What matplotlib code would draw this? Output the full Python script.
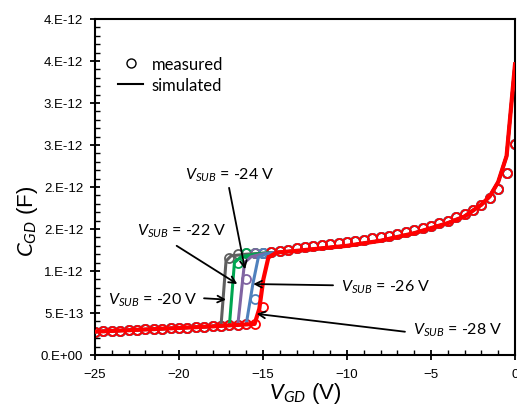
import numpy as np
import matplotlib
matplotlib.use("Agg")
import matplotlib.pyplot as plt
from matplotlib.lines import Line2D
from matplotlib.ticker import FixedLocator, FixedFormatter, MultipleLocator

plt.rcParams['font.family'] = ['Liberation Sans', 'DejaVu Sans']
plt.rcParams['mathtext.fontset'] = 'custom'
plt.rcParams['mathtext.rm'] = 'Lato'
plt.rcParams['mathtext.it'] = 'Lato:italic'

# measured points, 0.5 V steps (values in 1e-12 F)
base_x = [-25, -24.5, -24, -23.5, -23, -22.5, -22, -21.5, -21, -20.5,
          -20, -19.5, -19, -18.5, -18, -17.5, -17, -16.5, -16, -15.5]
base_c = [0.278, 0.282, 0.287, 0.291, 0.295, 0.300, 0.304, 0.308, 0.312, 0.317,
          0.322, 0.326, 0.331, 0.336, 0.341, 0.347, 0.353, 0.358, 0.364, 0.370]
upper_x = [-16.5, -16, -15.5, -15, -14.5, -14, -13.5, -13, -12.5, -12,
           -11.5, -11, -10.5, -10, -9.5, -9, -8.5, -8, -7.5, -7,
           -6.5, -6, -5.5, -5, -4.5, -4, -3.5, -3, -2.5, -2,
           -1.5, -1, -0.5, 0]
upper_c = [1.20, 1.21, 1.215, 1.22, 1.23, 1.24, 1.255, 1.27, 1.285, 1.30,
           1.31, 1.325, 1.335, 1.35, 1.36, 1.375, 1.39, 1.405, 1.42, 1.44,
           1.46, 1.49, 1.51, 1.54, 1.57, 1.60, 1.64, 1.68, 1.73, 1.79,
           1.87, 1.98, 2.17, 2.51]

# one transition point per V_SUB
series = ['-20', '-22', '-24', '-26', '-28']
colors = ['#5f5f5f', '#00a651', '#8064a2', '#4f81bd', '#ff0000']
trans_x = [-17.0, -16.5, -16.0, -15.5, -15.0]
trans_c = [1.16, 1.10, 0.91, 0.67, 0.57]

# simulated curves
sim_low_x = [-25, -22, -20, -18, -17.5, -17, -16.5, -16, -15.5]
sim_low_c = [0.278, 0.304, 0.322, 0.341, 0.347, 0.353, 0.358, 0.364, 0.370]
sim_step_x = [[-17.2, -16.9, -16.0, -14.8],
              [-16.7, -16.3, -15.5, -14.8],
              [-16.1, -15.7, -15.0, -14.5],
              [-15.6, -15.28, -14.8],
              [-15.22, -14.98, -14.68]]
sim_step_c = [[1.12, 1.18, 1.20, 1.215],
              [1.10, 1.17, 1.20, 1.215],
              [1.10, 1.17, 1.205, 1.215],
              [0.85, 1.16, 1.205],
              [0.55, 0.90, 1.16]]
sim_up_x = [-14.2, -13, -12, -10, -8, -6, -4, -3, -2, -1.5, -1.0, -0.5, 0.0]
sim_up_c = [1.22, 1.24, 1.26, 1.30, 1.36, 1.45, 1.57, 1.65, 1.79, 1.89, 2.06, 2.37, 3.46]

ytick_vals = [0, 0.5, 1.0, 1.5, 2.0, 2.5, 3.0, 3.5, 4.0]
ytick_text = ['0.E+00', '5.E-13', '1.E-12', '2.E-12', '2.E-12',
              '3.E-12', '3.E-12', '4.E-12', '4.E-12']

fig = plt.figure(figsize=(5.17, 4.10), dpi=100)
ax = fig.add_axes([95 / 517, 54 / 410, 420 / 517, 336 / 410])

for i, name in enumerate(series):
    tx = trans_x[i]
    mx = [x for x in base_x if x < tx] + [tx] + [x for x in upper_x if x > tx]
    mc = [c for x, c in zip(base_x, base_c) if x < tx] + [trans_c[i]] + \
         [c for x, c in zip(upper_x, upper_c) if x > tx]
    ax.plot(np.array(mx), np.array(mc) * 1e-12, 'o', mfc='none', mec=colors[i],
            ms=6.5, mew=1.3, zorder=2 + i * 0.1)

for i, name in enumerate(series):
    first = sim_step_x[i][0]
    lx = [x for x in sim_low_x if x < first - 0.2] + sim_step_x[i] + sim_up_x
    lc = [c for x, c in zip(sim_low_x, sim_low_c) if x < first - 0.2] + sim_step_c[i] + sim_up_c
    lw = 3.0 if name == '-28' else 2.2
    ax.plot(lx, np.array(lc) * 1e-12, '-', color=colors[i], lw=lw,
            solid_joinstyle='round', zorder=3 + i * 0.1)

ax.set_xlim(-25, 0)
ax.set_ylim(0, 4.0e-12)
ax.xaxis.set_major_locator(MultipleLocator(5))
ax.xaxis.set_minor_locator(MultipleLocator(1))
ax.yaxis.set_major_locator(FixedLocator([v * 1e-12 for v in ytick_vals]))
ax.yaxis.set_major_formatter(FixedFormatter(ytick_text))
ax.yaxis.set_minor_locator(MultipleLocator(0.1e-12))
ax.tick_params(which='major', direction='inout', length=7, width=1.3, labelsize=9.5)
ax.tick_params(which='minor', direction='in', length=3.5, width=1.0)
ax.tick_params(axis='x', pad=6)
ax.tick_params(axis='y', pad=5)
for s in ax.spines.values():
    s.set_linewidth(1.5)

ax.set_xlabel('$V_{GD}$ (V)', fontsize=16)
ax.set_ylabel('$C_{GD}$ (F)', fontsize=16)
ax.xaxis.set_label_coords(0.5, -0.075)
ax.yaxis.set_label_coords(-0.13, 0.40)

# annotations: label, text position, arrow start, arrow head (C in 1e-12 F)
notes = [('-24', (-16.96, 2.15), (-17.02, 1.99), (-16.07, 1.02)),
         ('-22', (-19.82, 1.48), (-20.14, 1.30), (-16.53, 0.845)),
         ('-20', (-21.55, 0.667), (-18.51, 0.675), (-17.2, 0.66)),
         ('-26', (-7.68, 0.82), (-10.83, 0.83), (-15.58, 0.845)),
         ('-28', (-3.39, 0.31), (-6.55, 0.277), (-15.38, 0.49))]
for name, tpos, start, head in notes:
    ax.text(tpos[0], tpos[1] * 1e-12, '$V_{SUB}$ = ' + name + ' V', family='Lato',
            fontsize=11.5, ha='center', va='center', zorder=5)
    ax.annotate('', xy=(head[0], head[1] * 1e-12), xytext=(start[0], start[1] * 1e-12),
                arrowprops=dict(arrowstyle='->', lw=1.3, color='k', mutation_scale=12,
                                shrinkA=0, shrinkB=0), zorder=5)

handles = [Line2D([], [], marker='o', ls='none', mfc='none', mec='k', ms=6.5, mew=1.0),
           Line2D([], [], color='k', lw=1.5)]
ax.legend(handles, ['measured', 'simulated'], loc='upper left', bbox_to_anchor=(0.02, 0.935),
          frameon=False, prop={'family': 'Lato', 'size': 12}, handlelength=1.5,
          handletextpad=0.5, labelspacing=0.3)

fig.savefig('out.png', dpi=100)
